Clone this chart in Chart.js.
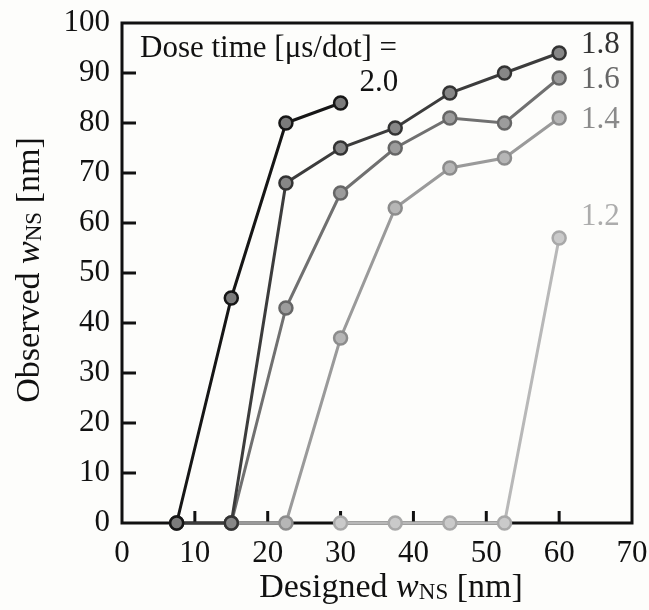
<!DOCTYPE html>
<html>
<head>
<meta charset="utf-8">
<script src="https://cdn.jsdelivr.net/npm/chart.js@4"></script>
<style>
  html, body { margin: 0; padding: 0; background: #fdfdfb; overflow: hidden; }
  #wrap { width: 649px; height: 610px; position: relative; }
</style>
</head>
<body>
<div id="wrap"><canvas id="chart"></canvas></div>
<script>
// dose times, one series each
const doseTimes = ['2.0', '1.8', '1.6', '1.4', '1.2'];

// designed width [nm] / observed width [nm]
const designed20 = [7.5, 15, 22.5, 30];
const observed20 = [0, 45, 80, 84];

const designed18 = [7.5, 15, 22.5, 30, 37.5, 45, 52.5, 60];
const observed18 = [0, 0, 68, 75, 79, 86, 90, 94];

const designed16 = [15, 22.5, 30, 37.5, 45, 52.5, 60];
const observed16 = [0, 43, 66, 75, 81, 80, 89];

const designed14 = [15, 22.5, 30, 37.5, 45, 52.5, 60];
const observed14 = [0, 0, 37, 63, 71, 73, 81];

const designed12 = [30, 37.5, 45, 52.5, 60];
const observed12 = [0, 0, 0, 0, 57];

const xTicks = [0, 10, 20, 30, 40, 50, 60, 70];
const yTicks = [0, 10, 20, 30, 40, 50, 60, 70, 80, 90, 100];

const SERIF = '"Liberation Serif", "Times New Roman", serif';

const looks = [
  { line: '#161616', fill: '#7b7b7b', edge: '#161616', text: '#111111' },
  { line: '#3c3c3c', fill: '#878787', edge: '#333333', text: '#333333' },
  { line: '#707070', fill: '#9c9c9c', edge: '#666666', text: '#666666' },
  { line: '#9a9a9a', fill: '#b6b6b6', edge: '#8c8c8c', text: '#8a8a8a' },
  { line: '#b8b8b8', fill: '#cacaca', edge: '#a8a8a8', text: '#acacac' }
];

function pairs(xs, ys) {
  return xs.map((x, i) => ({ x: x, y: ys[i] }));
}

const seriesData = [
  pairs(designed20, observed20),
  pairs(designed18, observed18),
  pairs(designed16, observed16),
  pairs(designed14, observed14),
  pairs(designed12, observed12)
];

// where the series labels sit, in data units
const labelSpots = [
  { x: 32.6, y: 88 },
  { x: 63.0, y: 95.6 },
  { x: 63.0, y: 88.6 },
  { x: 63.0, y: 80.6 },
  { x: 63.0, y: 61.2 }
];

const datasets = doseTimes.map((d, i) => ({
  label: d,
  data: seriesData[i],
  borderColor: looks[i].line,
  borderWidth: 3,
  pointRadius: 6.5,
  pointBorderWidth: 2.5,
  pointBackgroundColor: looks[i].fill,
  pointBorderColor: looks[i].edge,
  clip: false,
  tension: 0
}));

function drawRuns(ctx, runs, x, y, align) {
  let total = 0;
  runs.forEach(r => { ctx.font = r.font; total += ctx.measureText(r.t).width; });
  let cx = align === 'center' ? x - total / 2 : x;
  runs.forEach(r => {
    ctx.font = r.font;
    ctx.fillText(r.t, cx, y + (r.dy || 0));
    cx += ctx.measureText(r.t).width;
  });
}

const decor = {
  id: 'decor',
  beforeDatasetsDraw(chart) {
    const { ctx, chartArea: a, scales } = chart;
    const xs = scales.x, ys = scales.y;
    ctx.save();
    // frame
    ctx.strokeStyle = '#111';
    ctx.lineWidth = 3;
    ctx.strokeRect(a.left, a.top, a.right - a.left, a.bottom - a.top);
    // inward ticks
    xTicks.slice(1, -1).forEach(v => {
      const px = xs.getPixelForValue(v);
      ctx.beginPath(); ctx.moveTo(px, a.bottom); ctx.lineTo(px, a.bottom - 12); ctx.stroke();
    });
    yTicks.slice(1, -1).forEach(v => {
      const py = ys.getPixelForValue(v);
      ctx.beginPath(); ctx.moveTo(a.left, py); ctx.lineTo(a.left + 14, py); ctx.stroke();
    });
    ctx.restore();
  },
  afterDraw(chart) {
    const { ctx, chartArea: a, scales } = chart;
    const xs = scales.x, ys = scales.y;
    ctx.save();
    // series labels
    ctx.textBaseline = 'middle';
    ctx.textAlign = 'left';
    ctx.font = '31px ' + SERIF;
    doseTimes.forEach((d, i) => {
      ctx.fillStyle = looks[i].text;
      ctx.fillText(d, xs.getPixelForValue(labelSpots[i].x), ys.getPixelForValue(labelSpots[i].y));
    });
    ctx.fillStyle = '#111';
    ctx.fillText('Dose time [\u03bcs/dot] =', a.left + 18, ys.getPixelForValue(94.8));
    // axis titles
    ctx.textBaseline = 'alphabetic';
    const main = '34px ' + SERIF;
    const ital = 'italic 34px ' + SERIF;
    const sub = '23px ' + SERIF;
    drawRuns(ctx, [
      { t: 'Designed ', font: main },
      { t: 'w', font: ital },
      { t: 'NS', font: sub, dy: 2 },
      { t: ' [nm]', font: main }
    ], 391, 597, 'center');
    ctx.translate(39, 270);
    ctx.rotate(-Math.PI / 2);
    drawRuns(ctx, [
      { t: 'Observed ', font: main },
      { t: 'w', font: ital },
      { t: 'NS', font: sub, dy: 2 },
      { t: ' [nm]', font: main }
    ], 0, 0, 'center');
    ctx.restore();
  }
};

function build() {
  new Chart(document.getElementById('chart'), {
    type: 'line',
    data: { datasets },
    options: {
      responsive: true,
      maintainAspectRatio: false,
      animation: false,
      layout: { padding: { left: 0, top: 23, right: 17, bottom: 0 } },
      plugins: { legend: { display: false }, tooltip: { enabled: false } },
      scales: {
        x: {
          type: 'linear',
          min: 0, max: 70,
          afterBuildTicks: s => { s.ticks = xTicks.map(v => ({ value: v })); },
          afterFit: s => { s.height = 87; s.paddingLeft = 0; s.paddingRight = 0; },
          grid: { display: false, drawTicks: false },
          border: { display: false },
          ticks: { color: '#111', padding: 12, maxRotation: 0, font: { family: SERIF, size: 31 } }
        },
        y: {
          type: 'linear',
          min: 0, max: 100,
          afterBuildTicks: s => { s.ticks = yTicks.map(v => ({ value: v })); },
          afterFit: s => { s.width = 122; s.paddingTop = 0; s.paddingBottom = 0; },
          grid: { display: false, drawTicks: false },
          border: { display: false },
          ticks: { color: '#111', padding: 12, font: { family: SERIF, size: 31 } }
        }
      }
    },
    plugins: [decor]
  });
}

Promise.all([
  document.fonts.load('31px "Liberation Serif"'),
  document.fonts.load('italic 31px "Liberation Serif"')
]).then(build, build);
</script>
</body>
</html>
